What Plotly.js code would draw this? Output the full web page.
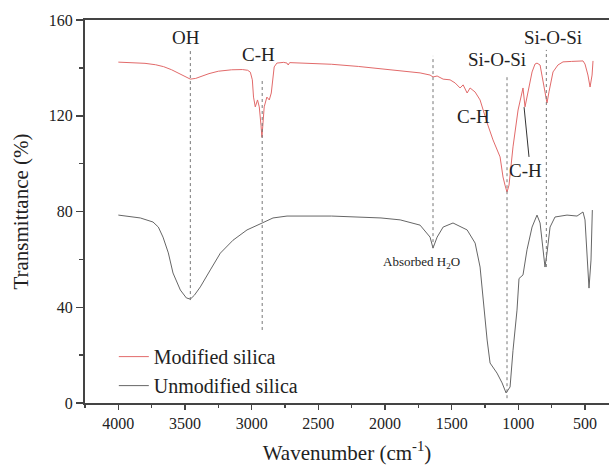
<!DOCTYPE html>
<html>
<head>
<meta charset="utf-8">
<script src="https://cdn.plot.ly/plotly-3.0.1.min.js"></script>
<style>html,body{margin:0;padding:0;background:#fff;}#chart{width:609px;height:467px;}
#chart text{font-family:"Liberation Serif",serif !important;}</style>
</head>
<body>
<div id="chart"></div>
<script>
// Modified silica (wavenumber, transmittance)
const modWn = [4000,3900,3800,3720,3660,3600,3540,3490,3460,3420,3380,3320,3250,3150,3070,3030,3010,2995,2986,2973,2956,2943,2930,2923,2915,2906,2886,2868,2853,2840,2831,2811,2760,2735,2726,2715,2600,2400,2200,2000,1886,1737,1662,1640,1609,1564,1512,1474,1437,1414,1384,1362,1324,1287,1234,1190,1137,1115,1100,1085,1070,1062,1040,1002,979,965,950,927,897,875,860,837,815,800,785,770,755,740,703,665,600,515,500,478,462,447,440];
const modT  = [142.4,142.2,141.9,141.3,140.5,139.2,137.5,136.0,135.3,135.6,136.4,137.6,138.6,139.2,139.3,139.0,138.2,135.0,127.8,123.7,126.6,123.7,116.0,111.0,117.0,123.7,127.8,126.6,129.5,136.0,140.4,142.0,142.3,142.0,141.2,142.2,142.0,141.5,140.6,139.4,138.5,137.9,137.0,136.2,136.6,135.3,135.0,133.7,131.6,132.9,129.5,131.6,129.9,126.6,117.0,109.9,102.8,94.4,91.0,88.1,91.0,96.0,107.0,122.4,128.7,131.6,123.7,130.8,138.3,141.6,142.0,141.2,135.0,130.0,125.3,130.0,135.0,138.3,141.2,142.5,142.7,142.9,141.6,137.0,132.0,137.0,142.9];
// Unmodified silica
const unWn = [4000,3835,3740,3700,3665,3625,3590,3535,3490,3460,3430,3385,3310,3235,3140,3035,2921,2840,2735,2400,2030,1886,1737,1662,1640,1609,1564,1490,1384,1324,1287,1265,1234,1212,1160,1122,1092,1062,1040,1010,995,965,935,897,860,837,815,800,785,762,725,635,560,515,500,485,470,455,445];
const unT  = [78.5,77.3,75.6,73.5,69.3,62.7,54.3,47.2,43.9,43.4,45.0,48.5,55.6,62.6,68.0,72.3,75.2,77.3,78.1,78.1,77.3,76.5,74.3,69.3,64.7,69.3,73.5,75.2,72.3,66.8,56.8,43.0,26.3,16.7,12.5,8.4,4.2,6.7,22.0,38.8,52.0,53.5,64.0,73.5,78.5,75.2,64.0,56.8,62.7,73.5,77.7,78.5,78.1,79.8,76.5,59.7,48.0,59.7,80.6];
// Marker lines (wavenumber, top, bottom)
const markWn  = [3460,2921,1640,1085,790];
const markTop = [147.9,135.5,145.0,136.6,147.5];
const markBot = [43.0,30.5,64.7,2.0,56.8];
// Band labels
const labText = ['OH','C-H','Si-O-Si','Si-O-Si','C-H','C-H'];
const labWn   = [3490,2951,1160,740,1339,943];
const labY    = [152.5,145.4,143.3,152.9,119.5,97.3];

const serif = 'Liberation Serif';
const shapes = markWn.map((w,i)=>({type:'line',xref:'x',yref:'y',x0:w,x1:w,y0:markBot[i],y1:markTop[i],line:{color:'#777',width:1,dash:'dot'}}));
shapes.push({type:'line',xref:'x',yref:'y',x0:957,x1:920,y0:123.6,y1:102.8,line:{color:'#333',width:1}});
const annotations = labText.map((t,i)=>({x:labWn[i],y:labY[i],xref:'x',yref:'y',text:t,showarrow:false,font:{family:serif,size:19,color:'#222'}}));
annotations.push({x:1729,y:58.9,xref:'x',yref:'y',text:'Absorbed H<sub>2</sub>O',showarrow:false,font:{family:serif,size:13,color:'#222'}});

const data = [
 {x:modWn,y:modT,type:'scatter',mode:'lines',name:'Modified silica',line:{color:'#e26a6a',width:1}},
 {x:unWn,y:unT,type:'scatter',mode:'lines',name:'Unmodified silica',line:{color:'#666',width:1}}
];
function axisBase(){return {showgrid:false,zeroline:false,showline:true,linecolor:'#444',linewidth:2,ticks:'outside',tickcolor:'#444',tickwidth:1.5,tickfont:{family:serif,size:16,color:'#222'}};}
const layout = {
 width:609,height:467,margin:{l:85,r:0,t:20,b:64},
 font:{family:serif,color:'#222'},
 paper_bgcolor:'#fff',plot_bgcolor:'#fff',
 showlegend:true,
 legend:{x:0.055,y:0.172,xanchor:'left',yanchor:'top',bgcolor:'rgba(0,0,0,0)',font:{family:serif,size:20,color:'#222'},tracegroupgap:0},
 xaxis:Object.assign(axisBase(),{range:[4250,320],autorange:false,tick0:0,dtick:500,ticklen:5,mirror:true,
   minor:{dtick:250,ticks:'outside',ticklen:3,tickcolor:'#444',tickwidth:1.5},
   title:{text:'Wavenumber (cm<sup>-1</sup>)',font:{family:serif,size:21,color:'#222'},standoff:14}}),
 yaxis:Object.assign(axisBase(),{range:[0,160],autorange:false,tick0:0,dtick:40,ticklen:7,
   minor:{dtick:20,ticks:'outside',ticklen:4,tickcolor:'#444',tickwidth:1.5},
   title:{text:'Transmittance (%)',font:{family:serif,size:21,color:'#222'},standoff:14}}),
 shapes:shapes,annotations:annotations
};
Plotly.newPlot('chart',data,layout,{displayModeBar:false,staticPlot:true});
</script>
</body>
</html>
